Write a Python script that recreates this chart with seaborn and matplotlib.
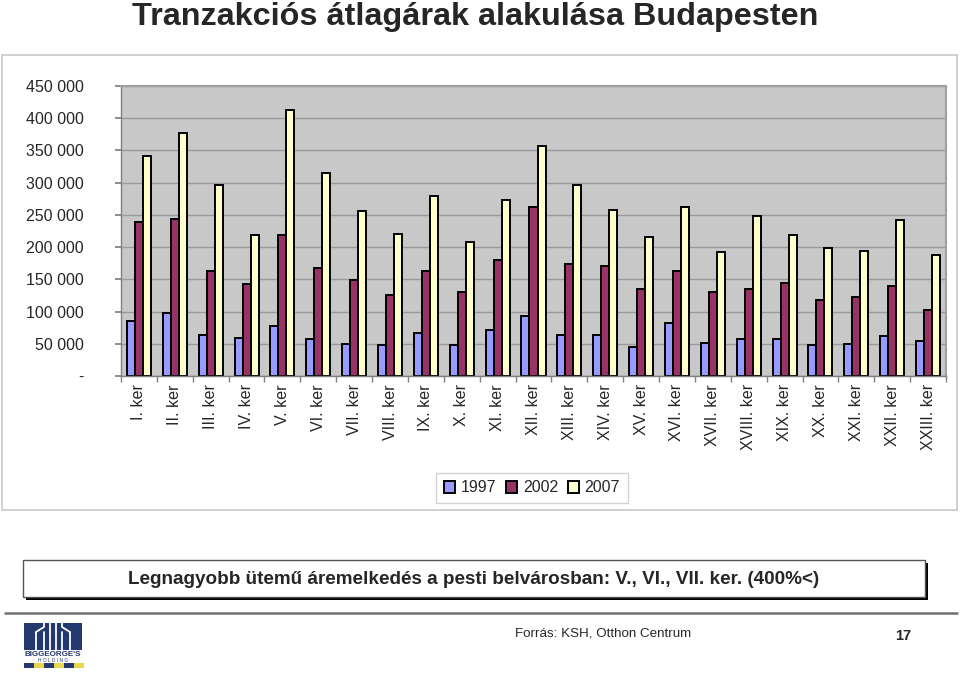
import matplotlib
matplotlib.use("Agg")
import matplotlib.pyplot as plt
import matplotlib.patches as mpatches
import numpy as np
import pandas as pd
import seaborn as sns

districts = ["I. ker", "II. ker", "III. ker", "IV. ker", "V. ker", "VI. ker", "VII. ker",
             "VIII. ker", "IX. ker", "X. ker", "XI. ker", "XII. ker", "XIII. ker", "XIV. ker",
             "XV. ker", "XVI. ker", "XVII. ker", "XVIII. ker", "XIX. ker", "XX. ker",
             "XXI. ker", "XXII. ker", "XXIII. ker"]
years = ["1997", "2002", "2007"]
v1997 = [85300, 97200, 63600, 59500, 78100, 56900, 49600, 47600, 66200, 47600, 71400, 92600,
         63600, 63600, 45500, 82700, 51700, 56900, 56900, 47600, 49600, 61500, 54300]
v2002 = [239400, 244000, 163400, 142200, 218200, 168000, 148900, 125600, 163400, 130300, 179900,
         262700, 173200, 170100, 135000, 163400, 130300, 135000, 144300, 118400, 123100, 139600, 101900]
v2007 = [341300, 376900, 295800, 218200, 412100, 314900, 255400, 220300, 279200, 208400, 272500,
         357300, 295800, 258000, 215600, 262700, 191800, 248700, 218200, 199100, 193900, 241500, 187200]
ytick_vals = [0, 50000, 100000, 150000, 200000, 250000, 300000, 350000, 400000, 450000]
ytick_labels = ["-", "50 000", "100 000", "150 000", "200 000", "250 000", "300 000",
                "350 000", "400 000", "450 000"]
colors = ["#9999FF", "#993366", "#FFFFCC"]

df = pd.DataFrame({
    "district": districts * 3,
    "year": [y for y in years for _ in districts],
    "value": v1997 + v2002 + v2007,
})

sns.set_theme(style="white")
plt.rcParams["font.family"] = ["Liberation Sans", "DejaVu Sans"]

W, H = 960, 673
fig = plt.figure(figsize=(W / 100, H / 100), dpi=100)
fig.patch.set_facecolor("white")

def fx(x):
    return x / W

def fy(y):
    return 1 - y / H

# chart panel frame
fig.add_artist(mpatches.Rectangle((fx(2), fy(510)), fx(955), (510 - 55) / H,
                                  transform=fig.transFigure, facecolor="white",
                                  edgecolor="#C8C8C8", linewidth=1.2, zorder=0))

ax = fig.add_axes([fx(121), fy(376), fx(946 - 121), (376 - 86) / H])
ax.set_facecolor("#C8C8C8")
sns.barplot(data=df, x="district", y="value", hue="year", palette=colors, width=0.67,
            edgecolor="black", linewidth=1.4, ax=ax, legend=True, saturation=1)
ax.set_ylim(0, 450000)
ax.set_xlim(-0.5, len(districts) - 0.5)
ax.set_yticks(ytick_vals)
ax.set_yticklabels(ytick_labels, fontsize=11.5)
ax.yaxis.grid(True, color="#9A9A9A", linewidth=1)
ax.set_axisbelow(True)
ax.set_xlabel("")
ax.set_ylabel("")
ax.set_xticks(range(len(districts)))
ax.set_xticklabels(districts, rotation=90, fontsize=11.5, va="top", ha="center")
ax.tick_params(axis="x", which="major", length=0, pad=6)
ax.set_xticks(np.arange(-0.5, len(districts), 1), minor=True)
ax.tick_params(axis="x", which="minor", length=4, color="#808080", direction="out", bottom=True)
ax.tick_params(axis="y", length=4, color="#808080", direction="out", left=True, pad=23)
for s in ["left", "bottom"]:
    ax.spines[s].set_color("#808080")
    ax.spines[s].set_linewidth(1)
for s in ["top", "right"]:
    ax.spines[s].set_color("#A0A0A0")
    ax.spines[s].set_linewidth(1.5)

h, l = ax.get_legend_handles_labels()
ax.legend_.remove()
fig.legend(h, l, loc="center", bbox_to_anchor=(fx(532), fy(488)), ncol=3, fontsize=11.5,
           frameon=True, fancybox=False, edgecolor="#C8C8C8", handlelength=0.7,
           handleheight=0.7, handletextpad=0.35, columnspacing=0.6, borderpad=0.5)

fig.text(fx(475), fy(25.5), "Tranzakciós átlagárak alakulása Budapesten", ha="center",
         va="baseline", fontsize=23.3, fontweight="bold")

# bottom note box with shadow
fig.add_artist(mpatches.Rectangle((fx(26), fy(600)), fx(902), (600 - 563) / H,
                                  transform=fig.transFigure, facecolor="black",
                                  edgecolor="none", zorder=1))
fig.add_artist(mpatches.Rectangle((fx(23), fy(597)), fx(902), (597 - 560) / H,
                                  transform=fig.transFigure, facecolor="white",
                                  edgecolor="#555555", linewidth=1, zorder=2))
fig.text(fx(474), fy(579), "Legnagyobb ütemű áremelkedés a pesti belvárosban: V., VI., VII. ker. (400%<)",
         ha="center", va="center", fontsize=13.6, fontweight="bold", zorder=3)

fig.add_artist(plt.Line2D([fx(5), fx(957)], [fy(613), fy(613)], transform=fig.transFigure,
                          color="#707070", linewidth=1.8))
fig.text(fx(515), fy(634), "Forrás: KSH, Otthon Centrum", ha="left", va="center", fontsize=9.6)
fig.text(fx(903), fy(636), "17", ha="center", va="center", fontsize=10.5, fontweight="bold")

# logo (approximation)
navy = "#22386E"
fig.add_artist(mpatches.Rectangle((fx(24), fy(650)), fx(58), 27 / H, transform=fig.transFigure,
                                  facecolor=navy, edgecolor="none"))
for xl in [36, 44, 50, 56, 62, 70]:
    fig.add_artist(plt.Line2D([fx(xl), fx(xl)], [fy(650), fy(632)], transform=fig.transFigure,
                              color="white", linewidth=1.3))
fig.add_artist(plt.Line2D([fx(36), fx(44), fx(44)], [fy(632), fy(627), fy(623)],
                          transform=fig.transFigure, color="white", linewidth=1.3))
fig.add_artist(plt.Line2D([fx(70), fx(62), fx(62)], [fy(632), fy(627), fy(623)],
                          transform=fig.transFigure, color="white", linewidth=1.3))
fig.add_artist(plt.Line2D([fx(50), fx(50)], [fy(632), fy(623)],
                          transform=fig.transFigure, color="white", linewidth=1.3))
fig.add_artist(plt.Line2D([fx(56), fx(56)], [fy(632), fy(623)],
                          transform=fig.transFigure, color="white", linewidth=1.3))
fig.text(fx(53), fy(654), "BIGGEORGE'S", ha="center", va="center", fontsize=5.8,
         fontweight="bold", color=navy)
fig.text(fx(53), fy(660), "H O L D I N G", ha="center", va="center", fontsize=3.5, color=navy)
for i in range(6):
    fig.add_artist(mpatches.Rectangle((fx(24 + i * 10), fy(668)), fx(10), 5 / H,
                                      transform=fig.transFigure,
                                      facecolor=navy if i % 2 == 0 else "#E8D84A", edgecolor="none"))

fig.savefig("out.png", dpi=100)
